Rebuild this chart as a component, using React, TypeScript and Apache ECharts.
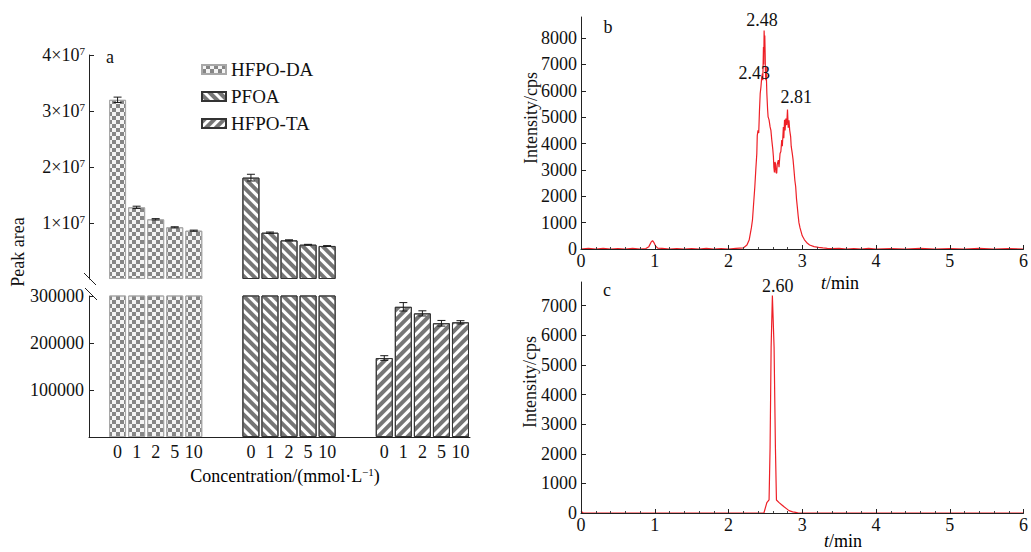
import React, { useEffect, useRef } from "react";
import * as echarts from "echarts";

const FONT = '"Liberation Serif", "Times New Roman", serif';
const FS = 18;

// ---------- Panel a data ----------
const compounds = ["HFPO-DA", "PFOA", "HFPO-TA"];
const concentrations = ["0", "1", "2", "5", "10"];
const hfpoDA = [32000000, 12800000, 10660000, 9230000, 8630000];
const hfpoDAErr = [480000, 200000, 120000, 100000, 100000];
const pfoa = [18100000, 8270000, 6900000, 6130000, 5900000];
const pfoaErr = [600000, 120000, 100000, 60000, 60000];
const hfpoTA = [168000, 277000, 263000, 242000, 244000];
const hfpoTAErr = [5000, 9000, 5500, 6000, 3500];
const upperTicks = [10000000, 20000000, 30000000, 40000000];
const lowerTicks = [100000, 200000, 300000];
const breakValue = 300000;

// ---------- Panel b data (t/min, intensity/cps) ----------
const tB = [
  0, 0.1, 0.2, 0.3, 0.4, 0.5, 0.6, 0.7, 0.8, 0.88, 0.92, 0.95, 0.97, 0.99, 1.01, 1.04, 1.1, 1.2, 1.3, 1.4,
  1.5, 1.6, 1.7, 1.8, 1.9, 2.0, 2.1, 2.2, 2.25, 2.28, 2.31, 2.325, 2.34, 2.357, 2.37, 2.384, 2.39, 2.4,
  2.41, 2.42, 2.43, 2.44, 2.45, 2.46, 2.465, 2.474, 2.478, 2.483, 2.488, 2.492, 2.497, 2.5, 2.506, 2.51,
  2.52, 2.53, 2.537, 2.55, 2.564, 2.575, 2.587, 2.6, 2.609, 2.615, 2.623, 2.63, 2.636, 2.645, 2.654, 2.66,
  2.676, 2.685, 2.699, 2.71, 2.722, 2.73, 2.744, 2.75, 2.76, 2.767, 2.778, 2.789, 2.8, 2.81, 2.82, 2.83,
  2.843, 2.85, 2.865, 2.875, 2.888, 2.9, 2.911, 2.922, 2.933, 2.945, 2.955, 2.97, 2.985, 3.0, 3.03, 3.07,
  3.1, 3.16, 3.22, 3.28, 3.34, 3.4, 3.5, 3.6, 3.7, 3.8, 3.9, 4.0, 4.2, 4.4, 4.6, 4.8, 5.0, 5.2, 5.4, 5.6,
  5.8, 6.0,
];
const iB = [
  0, 25, 0, 20, 0, 15, 0, 25, 0, 15, 90, 260, 320, 240, 120, 30, 20, 0, 15, 0,
  15, 0, 20, 0, 15, 0, 20, 40, 150, 340, 800, 1100, 1700, 2360, 3000, 3620, 4300, 4500,
  4400, 5260, 5900, 6150, 6500, 6650, 6400, 7660, 7000, 8290, 7800, 8100, 7410, 6800, 6400, 6900,
  5900, 5300, 5010, 4900, 4630, 4500, 4130, 3800, 3500, 3100, 2900, 3300, 3250, 2900, 2870, 3200,
  3370, 3100, 3620, 3700, 4130, 3900, 4630, 4200, 4900, 4500, 4950, 4700, 5290, 4600, 4880, 4500,
  4250, 3900, 3620, 3400, 2990, 2600, 2360, 1900, 1600, 1250, 1000, 800, 650, 500, 350, 215,
  150, 90, 60, 40, 25, 15, 20, 0, 15, 0, 20, 0, 15, 0, 20, 0, 15, 0, 20, 0,
  15, 0,
];

// ---------- Panel c data ----------
const tC = [0, 0.03, 0.5, 1.0, 1.5, 2.0, 2.48, 2.52, 2.55, 2.564, 2.578, 2.595, 2.618, 2.636, 2.65, 2.686, 2.72, 2.753, 2.79, 2.82, 2.87, 2.91, 2.95, 3.0, 4.0, 5.0, 6.0];
const iC = [60, 0, 0, 0, 0, 0, 0, 350, 440, 2230, 5600, 7340, 5600, 2230, 440, 350, 280, 210, 140, 80, 40, 20, 0, 0, 0, 0, 0];

const peaksB = [
  { name: "2.48", t: 2.483, v: 8290, pos: "top", offset: [-2, 0] },
  { name: "2.43", t: 2.43, v: 6660, pos: "inside", offset: [-6, 0] },
  { name: "2.81", t: 2.81, v: 5290, pos: "top", offset: [8, -3] },
];
const peaksC = [{ name: "2.60", t: 2.6, v: 7340, pos: "top", offset: [5, 0] }];

const styles: any = {
  "HFPO-DA": {
    color: "#f4f4f4",
    borderColor: "#a8a8a8",
    borderWidth: 1,
    decal: { symbol: "rect", symbolSize: 1, color: "#868686", dashArrayX: [[4, 4], [0, 4, 4, 0]], dashArrayY: [4, 0] },
  },
  PFOA: {
    color: "#ffffff",
    borderColor: "#333333",
    borderWidth: 1,
    decal: { symbol: "rect", symbolSize: 1, color: "#767676", dashArrayX: [1, 0], dashArrayY: [3.2, 2.8], rotation: Math.PI / 4 },
  },
  "HFPO-TA": {
    color: "#ffffff",
    borderColor: "#333333",
    borderWidth: 1,
    decal: { symbol: "rect", symbolSize: 1, color: "#767676", dashArrayX: [1, 0], dashArrayY: [3.2, 2.8], rotation: -Math.PI / 4 },
  },
};

const values = [hfpoDA, pfoa, hfpoTA];
const errors = [hfpoDAErr, pfoaErr, hfpoTAErr];

function buildOption() {
  // category layout: 1 blank, group, 2 blank, group, 2 blank, group
  const cats: string[] = ["gap-a"];
  const slotOf: number[][] = [];
  compounds.forEach((c, g) => {
    if (g > 0) cats.push(`gap-${g}-1`, `gap-${g}-2`);
    slotOf.push([]);
    concentrations.forEach((k) => {
      slotOf[g].push(cats.length);
      cats.push(`${c}|${k}`);
    });
  });
  const N = cats.length;

  const barSeries: any[] = [];
  const errUpper: any[] = [];
  const errLower: any[] = [];
  compounds.forEach((c, g) => {
    const up = new Array(N).fill(null);
    const lo = new Array(N).fill(null);
    values[g].forEach((v, k) => {
      const idx = slotOf[g][k];
      up[idx] = v > breakValue ? v : null;
      lo[idx] = v;
      if (v > breakValue) errUpper.push([idx, v, errors[g][k]]);
      else errLower.push([idx, v, errors[g][k]]);
    });
    barSeries.push({
      name: c, type: "bar", xAxisIndex: 0, yAxisIndex: 0, data: up, barWidth: 17, stack: "up",
      itemStyle: styles[c],
    });
    barSeries.push({
      name: c, type: "bar", xAxisIndex: 1, yAxisIndex: 1, data: lo, barWidth: 17, stack: "low",
      itemStyle: styles[c], clip: true,
    });
  });

  const errRender = (params: any, api: any) => {
    const x = api.value(0), v = api.value(1), e = api.value(2);
    const top = api.coord([x, v + e]);
    const bot = api.coord([x, v - e]);
    const hw = 4;
    const st = { stroke: "#1a1a1a", lineWidth: 1 };
    return {
      type: "group",
      children: [
        { type: "line", shape: { x1: top[0], y1: top[1], x2: bot[0], y2: bot[1] }, style: st },
        { type: "line", shape: { x1: top[0] - hw, y1: top[1], x2: top[0] + hw, y2: top[1] }, style: st },
        { type: "line", shape: { x1: bot[0] - hw, y1: bot[1], x2: bot[0] + hw, y2: bot[1] }, style: st },
      ],
    };
  };

  const axisText = { fontFamily: FONT, fontSize: FS, color: "#111" };
  const axisLine = { show: true, lineStyle: { color: "#222", width: 1 } };
  const plain = (v: number) => String(v);

  const lineB = tB.map((t, i) => [t, iB[i]]);
  const lineC = tC.map((t, i) => [t, iC[i]]);

  const mp = (peaks: any[]) => ({
    symbol: "circle",
    symbolSize: 0,
    label: { show: true, formatter: "{b}", ...axisText },
    data: peaks.map((p) => ({
      name: p.name,
      coord: [p.t, p.v],
      label: { position: p.pos, distance: 1, offset: p.offset },
    })),
  });

  const timeAxis = (gi: number) => ({
    type: "value", gridIndex: gi, min: 0, max: 6, interval: 1, z: 5,
    axisLine,
    axisTick: { show: true, inside: true, length: 4, lineStyle: { color: "#222" } },
    minorTick: { show: true, splitNumber: 5, length: 2, lineStyle: { color: "#444" } },
    axisLabel: { ...axisText, margin: 3, formatter: plain },
    splitLine: { show: false },
  });
  const intensityAxis = (gi: number, max: number) => ({
    type: "value", gridIndex: gi, min: 0, max, interval: 1000, z: 5,
    axisLine,
    axisTick: { show: true, inside: true, length: 5, lineStyle: { color: "#222" } },
    axisLabel: { ...axisText, margin: 4, showMaxLabel: false, formatter: plain },
    splitLine: { show: false },
  });

  const rich = {
    n: { fontFamily: FONT, fontSize: FS, color: "#111", lineHeight: 20 },
    s: { fontFamily: FONT, fontSize: 11, color: "#111", lineHeight: 20, verticalAlign: "top" },
    i: { fontFamily: FONT, fontSize: FS, color: "#111", fontStyle: "italic", lineHeight: 20 },
  };

  return {
    animation: false,
    backgroundColor: "#ffffff",
    legend: {
      data: compounds,
      orient: "vertical",
      left: 196,
      top: 55,
      itemWidth: 24,
      itemHeight: 9,
      itemGap: 8,
      icon: "rect",
      textStyle: { fontFamily: FONT, fontSize: 19, color: "#111" },
    },
    grid: [
      { left: 89, top: 55, width: 381, height: 224 },
      { left: 89, top: 296, width: 381, height: 141 },
      { left: 581, top: 17, width: 445, height: 232 },
      { left: 581, top: 282, width: 444, height: 231 },
    ],
    xAxis: [
      { type: "category", gridIndex: 0, data: cats, show: false },
      {
        type: "category", gridIndex: 1, data: cats,
        axisLine,
        axisTick: {
          show: true, inside: true, length: 3, alignWithLabel: true,
          interval: (i: number, v: string) => !v.startsWith("gap"),
          lineStyle: { color: "#333" },
        },
        axisLabel: {
          ...axisText, margin: 6, interval: 0,
          formatter: (v: string) => (v.startsWith("gap") ? "" : v.split("|")[1]),
        },
      },
      timeAxis(2),
      timeAxis(3),
    ],
    yAxis: [
      {
        type: "value", gridIndex: 0, min: 0, max: 40000000, interval: 10000000,
        axisLine,
        axisTick: { show: true, inside: true, length: 5, customValues: upperTicks, lineStyle: { color: "#222" } },
        axisLabel: {
          ...axisText, margin: 4, customValues: upperTicks,
          formatter: (v: number) => (v === 0 ? "" : `{n|${v / 10000000}×10}{s|7}`),
          rich,
        },
        splitLine: { show: false },
      },
      {
        type: "value", gridIndex: 1, min: 0, max: breakValue, interval: 100000,
        axisLine,
        axisTick: { show: true, inside: true, length: 5, customValues: lowerTicks, lineStyle: { color: "#222" } },
        axisLabel: { ...axisText, margin: 5, customValues: lowerTicks, formatter: plain },
        splitLine: { show: false },
      },
      intensityAxis(2, 8800),
      intensityAxis(3, 7800),
    ],
    series: [
      ...barSeries,
      {
        type: "custom", xAxisIndex: 0, yAxisIndex: 0, data: errUpper, renderItem: errRender, z: 4,
        encode: { x: 0, y: 1 }, silent: true,
      },
      {
        type: "custom", xAxisIndex: 1, yAxisIndex: 1, data: errLower, renderItem: errRender, z: 4,
        encode: { x: 0, y: 1 }, silent: true,
      },
      {
        type: "line", xAxisIndex: 2, yAxisIndex: 2, data: lineB, showSymbol: false, symbol: "none",
        lineStyle: { color: "#ee1f26", width: 1.2 }, z: 2, markPoint: mp(peaksB),
      },
      {
        type: "line", xAxisIndex: 3, yAxisIndex: 3, data: lineC, showSymbol: false, symbol: "none",
        lineStyle: { color: "#ee1f26", width: 1.2 }, z: 2, markPoint: mp(peaksC),
      },
    ],
    graphic: [
      { type: "text", x: 110, y: 57, style: { text: "a", fill: "#111", font: `${FS}px ${FONT}`, align: "center", verticalAlign: "middle" } },
      { type: "text", x: 608, y: 27, style: { text: "b", fill: "#111", font: `${FS}px ${FONT}`, align: "center", verticalAlign: "middle" } },
      { type: "text", x: 607, y: 290, style: { text: "c", fill: "#111", font: `${FS}px ${FONT}`, align: "center", verticalAlign: "middle" } },
      { type: "text", x: 18, y: 252, rotation: Math.PI / 2, style: { text: "Peak area", fill: "#111", font: `${FS}px ${FONT}`, align: "center", verticalAlign: "middle" } },
      { type: "text", x: 531, y: 118, rotation: Math.PI / 2, style: { text: "Intensity/cps", fill: "#111", font: `${FS}px ${FONT}`, align: "center", verticalAlign: "middle" } },
      { type: "text", x: 530, y: 382, rotation: Math.PI / 2, style: { text: "Intensity/cps", fill: "#111", font: `${FS}px ${FONT}`, align: "center", verticalAlign: "middle" } },
      { type: "text", x: 840, y: 283, style: { text: "{i|t}{n|/min}", rich, align: "center", verticalAlign: "middle" } },
      { type: "text", x: 843, y: 541, style: { text: "{i|t}{n|/min}", rich, align: "center", verticalAlign: "middle" } },
      { type: "text", x: 285, y: 476, style: { text: "{n|Concentration/(mmol·L}{s|−1}{n|)}", rich, align: "center", verticalAlign: "middle" } },
      { type: "line", shape: { x1: 84, y1: 273, x2: 96, y2: 285 }, style: { stroke: "#222", lineWidth: 1 } },
      { type: "line", shape: { x1: 85, y1: 288, x2: 97, y2: 300 }, style: { stroke: "#222", lineWidth: 1 } },
    ],
  };
}

export default function App() {
  const ref = useRef<HTMLDivElement>(null);
  useEffect(() => {
    if (!ref.current) return;
    const chart = echarts.init(ref.current, undefined, { renderer: "svg" });
    chart.setOption(buildOption() as any);
    return () => chart.dispose();
  }, []);
  return (
    <div
      ref={ref}
      style={{ position: "fixed", left: 0, top: 0, width: 1031, height: 552, background: "#fff" }}
    />
  );
}
